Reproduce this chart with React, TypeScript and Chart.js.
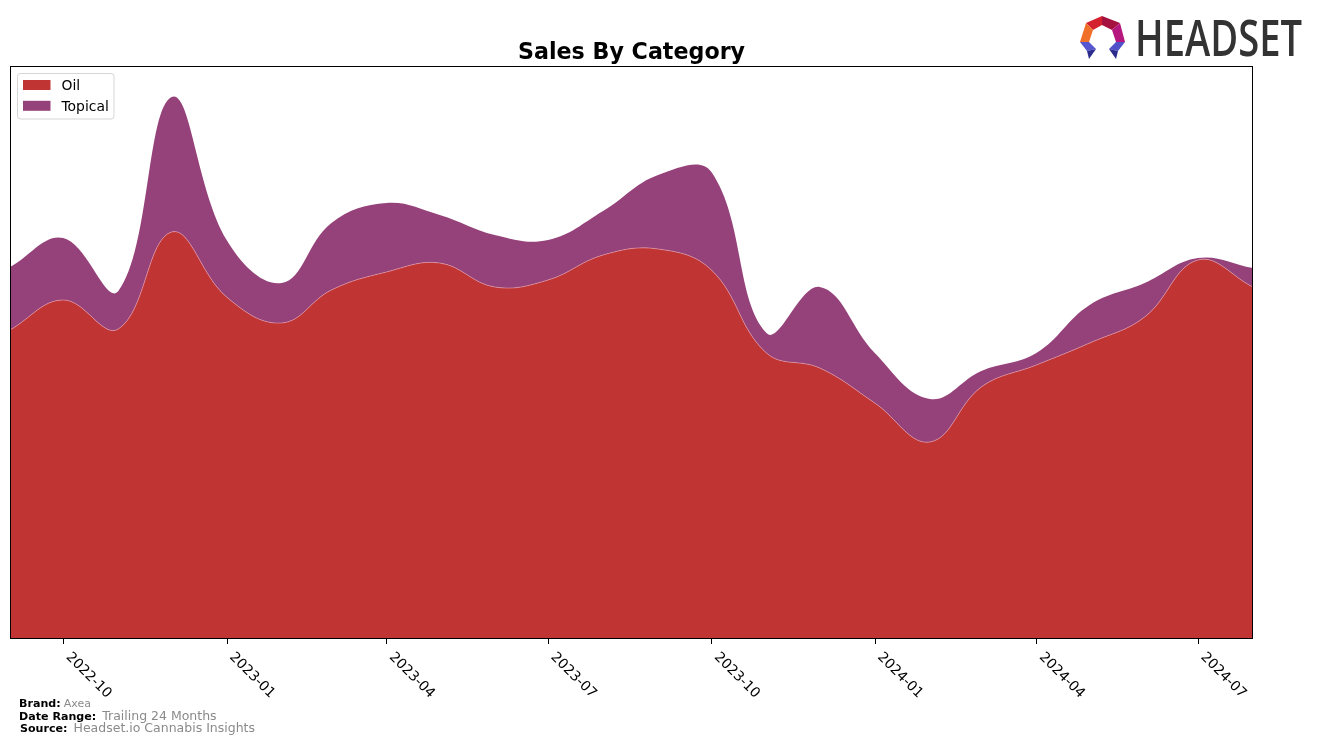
import React, { useEffect, useRef } from "react";
import { Chart, registerables } from "chart.js";

Chart.register(...registerables);

// ---- Data (monthly) ----
const months = [
  "2022-09-01", "2022-10-01", "2022-11-01", "2022-12-01",
  "2023-01-01", "2023-02-01", "2023-03-01", "2023-04-01",
  "2023-05-01", "2023-06-01", "2023-07-01", "2023-08-01",
  "2023-09-01", "2023-10-01", "2023-11-01", "2023-12-01",
  "2024-01-01", "2024-02-01", "2024-03-01", "2024-04-01",
  "2024-05-01", "2024-06-01", "2024-07-01", "2024-08-01",
];
const oilSales = [
  309, 339, 310, 407, 342, 316, 349, 367, 376, 352, 359, 384,
  390, 369, 286, 271, 236, 197, 252, 274, 296, 322, 379, 352,
];
const topicalSales = [
  63, 62, 38, 135, 57, 40, 67, 69, 48, 52, 40, 44,
  74, 98, 20, 81, 50, 43, 16, 12, 38, 34, 2, 19,
];
const tickLabels = ["2022-10", "2023-01", "2023-04", "2023-07", "2023-10", "2024-01", "2024-04", "2024-07"];
const seriesNames = ["Oil", "Topical"];
const seriesColors = ["#C13434", "#96427A"];
const titleText = "Sales By Category";
const footLabels = ["Brand:", "Date Range:", "Source:"];
const footValues = ["Axea", "Trailing 24 Months", "Headset.io Cannabis Insights"];

const FONT = "'DejaVu Sans', sans-serif";
const dayOf = (s: string) => (Date.parse(s) - Date.parse(months[0])) / 86400000;

const decor = {
  id: "decor",
  afterDraw(chart: any) {
    const { ctx, chartArea } = chart;
    const { left, top, right, bottom } = chartArea;
    const xScale = chart.scales.x;
    ctx.save();
    // frame
    ctx.strokeStyle = "#000";
    ctx.lineWidth = 1;
    ctx.strokeRect(left + 0.5, top + 0.5, right - left - 1, bottom - top - 1);
    // ticks + labels
    ctx.fillStyle = "#000";
    ctx.font = `13.9px ${FONT}`;
    ctx.textAlign = "left";
    ctx.textBaseline = "alphabetic";
    tickLabels.forEach((lab) => {
      const x = xScale.getPixelForValue(dayOf(lab + "-01"));
      ctx.beginPath();
      ctx.moveTo(Math.round(x) + 0.5, bottom);
      ctx.lineTo(Math.round(x) + 0.5, bottom + 5);
      ctx.stroke();
      ctx.save();
      ctx.translate(x + 2.3, bottom + 18.5);
      ctx.rotate(Math.PI / 4);
      ctx.fillText(lab, 0, 0);
      ctx.restore();
    });
    // title
    ctx.font = `bold 22.2px ${FONT}`;
    ctx.textAlign = "center";
    ctx.fillText(titleText, (left + right) / 2, 59);
    // legend
    ctx.beginPath();
    ctx.roundRect(17.5, 73.5, 96.5, 45.5, 3);
    ctx.fillStyle = "rgba(255,255,255,0.8)";
    ctx.fill();
    ctx.strokeStyle = "#d5d5d5";
    ctx.stroke();
    ctx.textAlign = "left";
    ctx.font = `13.9px ${FONT}`;
    seriesNames.forEach((n, i) => {
      const y = 80 + i * 20.8;
      ctx.fillStyle = seriesColors[i];
      ctx.fillRect(23, y, 27.5, 10);
      ctx.fillStyle = "#000";
      ctx.fillText(n, 61.5, y + 10.2);
    });
    // footnotes
    const baselines = [707, 720, 732];
    const valueSizes = [11, 12.5, 12.5];
    footLabels.forEach((lab, i) => {
      ctx.font = `bold 11.1px ${FONT}`;
      ctx.fillStyle = "#000";
      const lx = i === 2 ? 20 : 19;
      ctx.fillText(lab, lx, baselines[i]);
      const w = ctx.measureText(lab).width;
      ctx.font = `${valueSizes[i]}px ${FONT}`;
      ctx.fillStyle = "#8a8a8a";
      ctx.fillText(footValues[i], lx + w + (i === 0 ? 3 : 6), baselines[i]);
    });
    ctx.restore();
  },
};

function Logo() {
  return (
    <svg
      width={240}
      height={60}
      viewBox="0 0 240 60"
      style={{ position: "absolute", left: 1075, top: 8 }}
    >
      <g transform="translate(5,7)">
        <polygon points="22,1 6,8 13,15 22,10" fill="#D3222E" />
        <polygon points="22,1 40,8 32,15 22,10" fill="#A5123F" />
        <polygon points="6,8 0,27 9,27 13,15" fill="#F0702A" />
        <polygon points="40,8 45,27 36,27 32,15" fill="#B5177F" />
        <polygon points="0,27 9,27 16,34 7,36" fill="#5656D0" />
        <polygon points="7,36 16,34 9,44" fill="#2C2C8E" />
        <polygon points="45,27 36,27 29,34 38,36" fill="#5050C8" />
        <polygon points="38,36 29,34 36,44" fill="#2A2A8A" />
      </g>
      <text
        x={60}
        y={48}
        fontFamily="'Open Sans', 'DejaVu Sans', sans-serif"
        fontSize={50}
        fontWeight={600}
        fill="#333333"
        textLength={167}
        lengthAdjust="spacingAndGlyphs"
      >
        HEADSET
      </text>
    </svg>
  );
}

export default function App() {
  const ref = useRef<HTMLCanvasElement>(null);
  useEffect(() => {
    if (!ref.current) return;
    const xs = months.map(dayOf);
    const chart = new Chart(ref.current, {
      type: "line",
      data: {
        datasets: [
          {
            label: seriesNames[0],
            data: xs.map((x, i) => ({ x, y: oilSales[i] })),
            fill: "origin",
            backgroundColor: seriesColors[0],
            borderColor: "rgba(235,180,200,0.7)",
            borderWidth: 0.7,
            pointRadius: 0,
            tension: 0.4,
          },
          {
            label: seriesNames[1],
            data: xs.map((x, i) => ({ x, y: topicalSales[i] })),
            fill: "-1",
            backgroundColor: seriesColors[1],
            borderColor: seriesColors[1],
            borderWidth: 0,
            pointRadius: 0,
            tension: 0.4,
          },
        ],
      },
      options: {
        animation: false,
        responsive: false,
        maintainAspectRatio: false,
        layout: { padding: { left: 10, right: 64, top: 66, bottom: 0 } },
        plugins: {
          legend: { display: false },
          title: { display: false },
          tooltip: { enabled: false },
        },
        scales: {
          x: {
            type: "linear",
            min: 0,
            max: dayOf(months[months.length - 1]),
            grid: { display: false },
            border: { display: false },
            ticks: { display: false },
            afterFit: (s: any) => {
              s.height = 106;
            },
          },
          y: { stacked: true, display: false, min: 0, max: 573 },
        },
      } as any,
      plugins: [decor],
    });
    return () => chart.destroy();
  }, []);

  return (
    <div
      style={{
        position: "fixed",
        left: 0,
        top: 0,
        width: 1317,
        height: 745,
        background: "#fff",
      }}
    >
      <canvas ref={ref} width={1317} height={745} style={{ position: "absolute", left: 0, top: 0 }} />
      <Logo />
    </div>
  );
}
